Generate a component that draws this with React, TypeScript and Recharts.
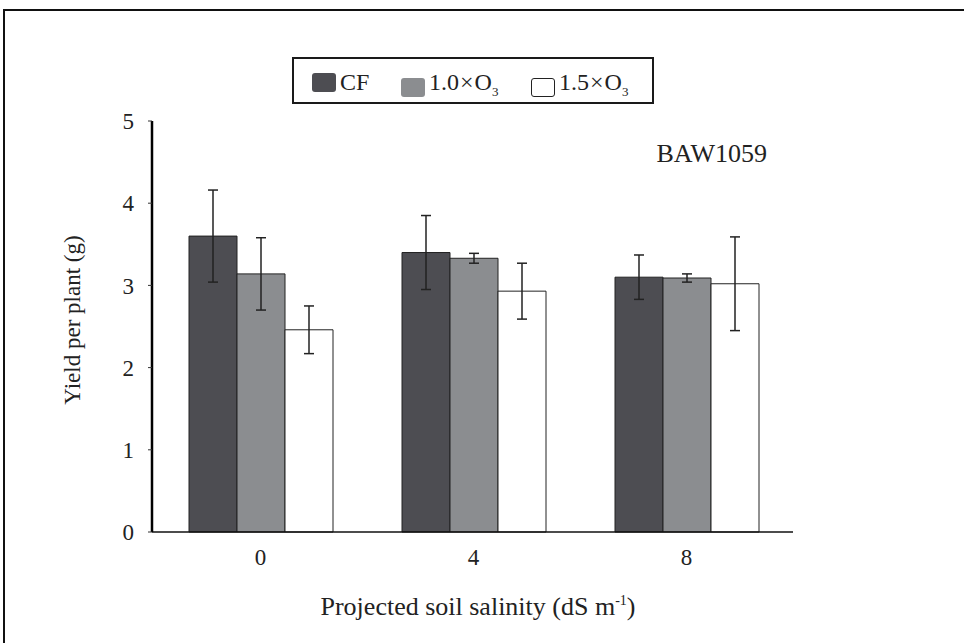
import React from "react"
import { BarChart, Bar, XAxis, YAxis, Legend, ErrorBar } from "recharts"

// salinity levels (dS m-1)
const categories = ["0", "4", "8"]

// yield per plant (g) and error bars
const cfValues = [3.6, 3.4, 3.1]
const cfErrors = [0.56, 0.45, 0.27]
const o3LowValues = [3.14, 3.33, 3.09]
const o3LowErrors = [0.44, 0.06, 0.05]
const o3HighValues = [2.46, 2.93, 3.02]
const o3HighErrors = [0.29, 0.34, 0.57]

const yTicks = [0, 1, 2, 3, 4, 5]

const seriesNames = ["CF", "1.0×O3", "1.5×O3"]
const seriesColors = ["#4d4d52", "#8b8d90", "#ffffff"]

const data = categories.map((c, i) => ({
  salinity: c,
  cf: cfValues[i],
  cfErr: cfErrors[i],
  low: o3LowValues[i],
  lowErr: o3LowErrors[i],
  high: o3HighValues[i],
  highErr: o3HighErrors[i],
}))

const FONT = '"Liberation Serif", "Times New Roman", serif'
const INK = "#222"

function LegendBox() {
  const lefts = [20, 109, 239]
  return (
    <div
      style={{
        position: "relative",
        width: 362,
        height: 47,
        boxSizing: "border-box",
        border: "2px solid #1a1a1a",
        background: "#fff",
        fontFamily: FONT,
        fontSize: 24,
        color: INK,
      }}
    >
      {seriesNames.map((name, i) => {
        const parts = name.split("×")
        return (
          <div key={name} style={{ position: "absolute", left: lefts[i] - 2, top: 11, display: "flex", alignItems: "center" }}>
            <span
              style={{
                display: "inline-block",
                width: 24,
                height: 19,
                boxSizing: "border-box",
                background: seriesColors[i],
                border: i === 2 ? "1.5px solid #222" : "none",
                borderRadius: 3,
                marginRight: 4,
              }}
            />
            {parts.length === 1 ? (
              <span style={{ lineHeight: "24px" }}>{name}</span>
            ) : (
              <span style={{ lineHeight: "24px", whiteSpace: "nowrap" }}>
                {parts[0]}
                <span style={{ margin: "0 1px" }}>×</span>O
                <sub style={{ fontSize: 13, verticalAlign: "-6px" }}>{parts[1].replace("O", "")}</sub>
              </span>
            )}
          </div>
        )
      })}
    </div>
  )
}

export default function App() {
  return (
    <div style={{ position: "fixed", left: 0, top: 0, width: 964, height: 643, overflow: "hidden", background: "#fff" }}>
      <div
        style={{
          position: "absolute",
          left: 3,
          top: 9,
          width: 1000,
          height: 700,
          borderTop: "2px solid #111",
          borderLeft: "2px solid #111",
        }}
      />
      <div style={{ position: "absolute", left: 0, top: 0 }}>
        <BarChart
          width={964}
          height={643}
          data={data}
          margin={{ top: 121, right: 171, left: 72, bottom: 11 }}
          barGap={0}
          style={{ fontFamily: FONT }}
        >
          <XAxis
            dataKey="salinity"
            height={100}
            padding={{ left: 2, right: 0 }}
            tickLine={false}
            tickSize={0}
            tickMargin={17}
            axisLine={{ stroke: "#111", strokeWidth: 1.5 }}
            tick={{ fill: INK, fontSize: 23, fontFamily: FONT }}
            label={{
              content: () => (
                <text x={478} y={615} textAnchor="middle" fill={INK} fontSize={26} fontFamily={FONT}>
                  Projected soil salinity (dS m
                  <tspan fontSize={14} dy={-10}>-1</tspan>
                  <tspan dy={10}>)</tspan>
                </text>
              ),
            }}
          />
          <XAxis xAxisId="top" dataKey="salinity" orientation="top" height={0} tick={false} tickLine={false} axisLine={{ stroke: "#333", strokeWidth: 1 }} />
          <YAxis
            domain={[0, 5]}
            ticks={yTicks}
            width={80}
            tickSize={4}
            tickMargin={14}
            tickLine={{ stroke: "#333" }}
            axisLine={{ stroke: "#000", strokeWidth: 2.5 }}
            tick={{ fill: INK, fontSize: 23, fontFamily: FONT }}
            label={{
              content: () => (
                <text
                  x={72}
                  y={320}
                  transform="rotate(-90 72 320)"
                  textAnchor="middle"
                  dominantBaseline="central"
                  fill={INK}
                  fontSize={23}
                  fontFamily={FONT}
                >
                  Yield per plant (g)
                </text>
              ),
            }}
          />
          <YAxis yAxisId="right" orientation="right" width={0} domain={[0, 5]} tick={false} tickLine={false} axisLine={{ stroke: "#444", strokeWidth: 1 }} />
          <Legend
            verticalAlign="middle"
            align="center"
            wrapperStyle={{ left: 292, top: 57, width: 362, height: 47 }}
            content={() => <LegendBox />}
          />
          <Bar dataKey="cf" name={seriesNames[0]} fill={seriesColors[0]} stroke="#222" strokeWidth={1} barSize={48} isAnimationActive={false}>
            <ErrorBar dataKey="cfErr" width={5} stroke="#222" strokeWidth={1.5} />
          </Bar>
          <Bar dataKey="low" name={seriesNames[1]} fill={seriesColors[1]} stroke="#222" strokeWidth={1} barSize={48} isAnimationActive={false}>
            <ErrorBar dataKey="lowErr" width={5} stroke="#222" strokeWidth={1.5} />
          </Bar>
          <Bar dataKey="high" name={seriesNames[2]} fill={seriesColors[2]} stroke="#222" strokeWidth={1} barSize={48} isAnimationActive={false}>
            <ErrorBar dataKey="highErr" width={5} stroke="#222" strokeWidth={1.5} />
          </Bar>
          <text x={767} y={162} textAnchor="end" fill={INK} fontSize={26} fontFamily={FONT}>
            BAW1059
          </text>
        </BarChart>
      </div>
    </div>
  )
}
